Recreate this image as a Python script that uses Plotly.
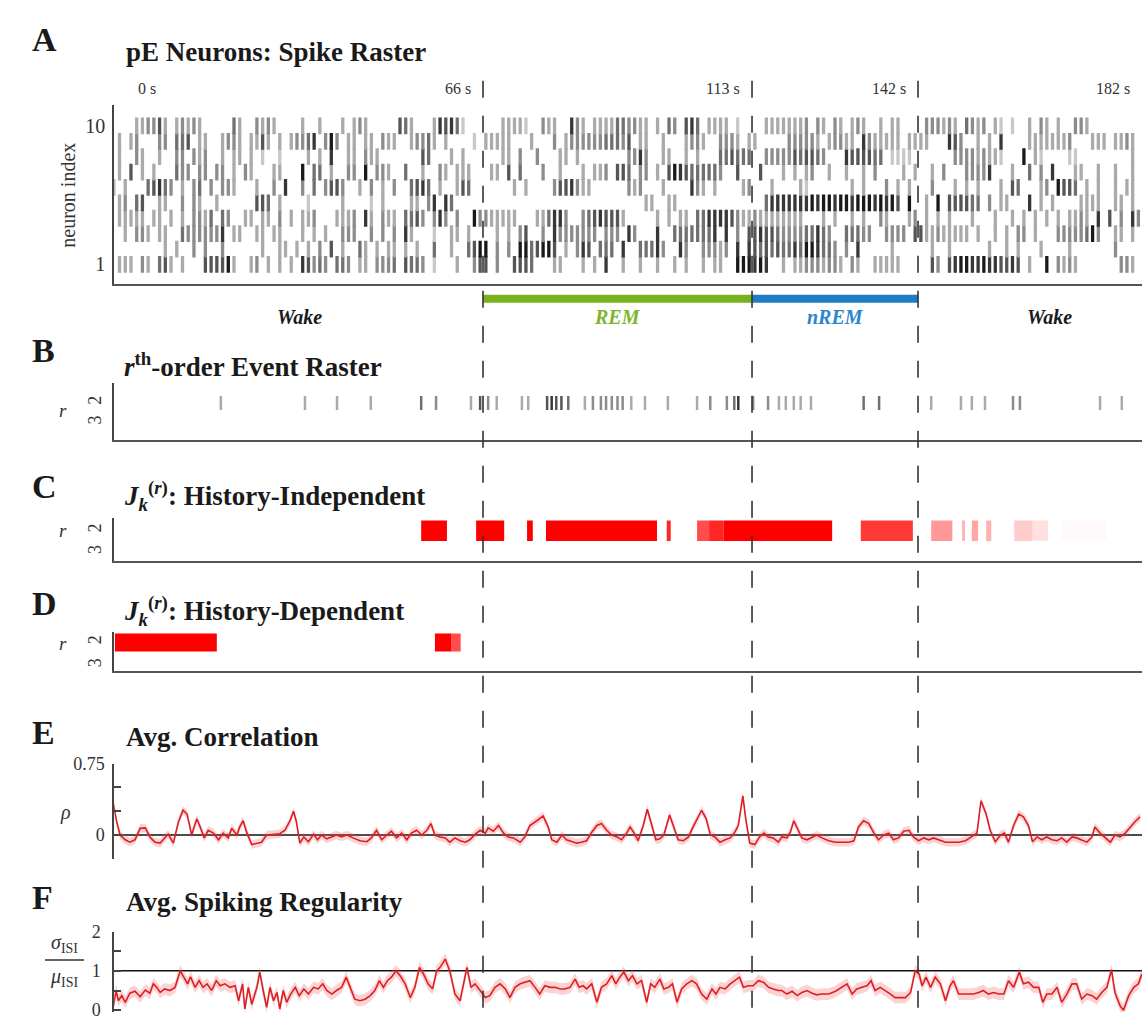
import plotly.graph_objects as go

# ---------------- DATA ----------------
TIME_MARKS = [0, 66, 113, 142, 182]          # seconds (labels above raster)
STATE_BOUNDS = [66, 113, 142]                 # dashed lines
STATE_NAMES = ["Wake", "REM", "nREM", "Wake"]
STATE_START = [0, 66, 113, 142]
STATE_END = [66, 113, 142, 188]
STATE_LABEL_T = [34, 89.5, 127.5, 165]
STATE_COLORS = [None, "#77b21c", "#1f7dc6", None]
STATE_TEXT_COLORS = ["#1a1a1a", "#7db62a", "#2a86cc", "#1a1a1a"]

# spike raster: per neuron list of (second-bin, darkness level 1-8)
N10 = [(5,3),(6,3),(7,4),(8,4),(9,6),(10,3),(12,3),(13,4),(14,3),(15,4),(16,3),(22,5),(23,3),(26,4),(27,3),(28,4),(29,3),(34,3),(37,3),(41,3),(43,3),(44,4),(45,3),(51,6),(52,5),(53,3),(57,3),(58,7),(59,6),(60,7),(61,5),(62,2),(69,3),(70,3),(71,3),(72,3),(73,2),(76,4),(77,3),(78,3),(81,7),(82,4),(83,3),(85,3),(86,3),(87,3),(88,3),(89,5),(90,5),(91,4),(92,4),(93,3),(94,3),(96,3),(98,5),(99,4),(101,6),(102,7),(103,5),(105,3),(106,3),(107,3),(108,3),(110,2),(115,3),(116,3),(117,3),(118,3),(119,3),(120,3),(121,3),(122,4),(124,4),(125,3),(127,4),(128,3),(130,3),(131,4),(132,3),(135,3),(137,3),(138,3),(143,4),(144,4),(145,4),(146,3),(147,4),(148,3),(150,5),(151,4),(152,3),(153,4),(155,3),(156,2),(158,2),(161,3),(163,4),(164,3),(166,3),(169,4),(170,4),(171,3)]
N9 = [(2,3),(4,3),(5,4),(9,4),(10,4),(12,5),(13,5),(14,6),(16,3),(17,3),(20,3),(21,4),(22,4),(23,3),(25,3),(26,3),(27,6),(28,3),(30,3),(32,3),(33,4),(34,4),(35,5),(36,7),(38,4),(39,8),(40,4),(42,3),(43,3),(45,3),(46,3),(48,4),(49,3),(50,3),(53,3),(54,4),(55,4),(56,5),(57,3),(59,3),(64,2),(66,3),(67,3),(68,3),(69,3),(70,3),(74,3),(78,4),(80,3),(81,4),(82,4),(83,4),(84,4),(85,4),(86,4),(87,5),(88,5),(89,5),(90,4),(91,6),(93,3),(94,3),(97,3),(101,3),(102,4),(103,4),(104,3),(107,4),(108,4),(109,4),(110,3),(112,3),(113,3),(119,4),(120,4),(121,4),(122,4),(123,4),(124,3),(126,3),(127,4),(128,4),(129,3),(130,3),(132,7),(133,4),(134,3),(135,3),(136,3),(137,3),(138,3),(140,3),(141,3),(142,3),(143,3),(147,7),(148,6),(149,4),(152,3),(154,3),(156,7),(161,3),(162,3),(163,3),(164,3),(165,3),(166,3),(167,3),(168,4),(172,3),(173,3),(174,3),(176,3),(177,3),(178,4),(179,3)]
N8 = [(2,3),(5,4),(6,3),(9,3),(12,4),(13,4),(15,4),(16,3),(17,4),(20,3),(22,3),(23,3),(25,3),(27,2),(30,2),(35,3),(37,3),(39,7),(42,3),(43,3),(45,4),(46,3),(47,3),(55,6),(56,5),(60,3),(62,3),(69,3),(70,3),(72,4),(75,4),(79,3),(80,3),(82,3),(91,4),(92,4),(93,7),(94,4),(97,3),(98,3),(101,3),(103,3),(107,5),(108,5),(109,6),(110,5),(111,5),(112,5),(115,4),(116,4),(117,4),(118,4),(119,4),(120,6),(121,5),(122,6),(123,6),(124,5),(125,4),(129,7),(130,6),(131,6),(132,6),(133,6),(134,5),(135,5),(137,2),(138,2),(139,2),(140,2),(148,4),(149,4),(150,4),(151,4),(152,3),(153,4),(154,3),(155,3),(156,2),(160,8),(162,3),(163,2),(168,2),(169,2),(179,3)]
N7 = [(2,3),(4,6),(6,3),(8,3),(12,5),(13,4),(14,4),(16,4),(17,4),(19,4),(20,4),(22,3),(24,4),(25,3),(29,3),(30,3),(34,8),(36,5),(37,5),(39,3),(42,4),(43,4),(45,8),(47,4),(48,4),(49,3),(52,5),(55,3),(58,4),(59,3),(61,3),(62,3),(63,3),(67,3),(68,3),(70,6),(72,5),(76,4),(79,3),(83,3),(85,3),(86,3),(87,4),(89,6),(90,6),(91,5),(93,4),(94,4),(96,3),(98,6),(99,8),(100,7),(101,6),(102,5),(103,5),(104,5),(105,5),(106,5),(107,4),(110,6),(114,6),(118,3),(120,3),(122,3),(123,4),(126,3),(129,3),(132,3),(134,4),(139,3),(141,3),(144,3),(146,4),(150,4),(151,4),(152,4),(153,4),(154,7),(158,3),(161,5),(163,4),(165,7),(169,3),(170,3),(173,3),(176,3),(179,3)]
N6 = [(1,3),(3,3),(7,5),(8,6),(9,7),(10,5),(11,4),(13,3),(15,4),(16,5),(18,4),(20,4),(21,4),(22,3),(26,3),(29,4),(31,7),(34,4),(36,5),(38,4),(39,6),(40,6),(41,4),(44,3),(46,4),(48,3),(50,4),(53,5),(54,6),(55,7),(56,5),(58,3),(61,3),(62,6),(63,5),(71,3),(73,3),(78,4),(79,6),(80,6),(81,7),(82,4),(83,3),(84,3),(91,4),(92,3),(93,4),(97,3),(102,7),(103,4),(104,3),(106,3),(111,3),(112,4),(116,3),(121,3),(122,2),(130,3),(132,3),(136,4),(138,3),(140,3),(144,4),(148,3),(150,3),(152,3),(156,3),(158,6),(159,5),(163,3),(164,4),(166,8),(167,6),(168,6),(169,5),(171,3),(173,3),(176,3),(178,3),(179,3)]
N5 = [(2,3),(3,4),(5,5),(6,6),(9,3),(10,3),(13,4),(15,4),(16,3),(19,3),(26,6),(27,6),(28,5),(30,3),(35,2),(41,3),(46,2),(48,3),(53,3),(54,3),(56,4),(57,7),(59,7),(60,5),(94,3),(95,3),(98,3),(99,3),(115,5),(116,7),(117,7),(118,7),(119,7),(120,7),(121,7),(122,7),(123,8),(124,7),(125,8),(126,8),(127,7),(128,8),(129,8),(130,7),(131,8),(132,8),(133,8),(134,7),(135,8),(136,7),(137,8),(138,6),(140,8),(143,3),(145,8),(147,6),(148,6),(149,6),(150,6),(151,5),(152,5),(154,4),(156,3),(157,3),(161,7),(163,3),(165,3),(170,3),(171,3),(172,3),(173,3),(176,3),(177,3),(179,3)]
N4 = [(2,3),(3,3),(4,3),(5,3),(6,3),(8,3),(9,3),(11,3),(13,3),(15,4),(16,4),(17,3),(18,5),(20,5),(21,4),(24,3),(25,3),(27,3),(28,3),(30,4),(32,3),(34,3),(35,3),(36,4),(40,3),(41,3),(42,3),(43,4),(45,7),(46,3),(48,4),(49,3),(50,3),(52,5),(53,5),(54,6),(55,4),(57,4),(58,7),(59,4),(61,4),(64,8),(65,4),(66,4),(67,3),(68,3),(69,3),(70,3),(71,3),(75,3),(76,3),(77,5),(78,7),(79,7),(80,4),(83,4),(84,5),(85,6),(86,7),(87,6),(88,6),(89,6),(90,3),(96,3),(98,3),(100,3),(101,3),(103,5),(104,5),(105,7),(106,7),(107,7),(108,7),(109,6),(110,4),(111,3),(112,3),(113,4),(114,3),(115,3),(116,3),(117,3),(118,3),(119,3),(120,3),(121,3),(125,3),(127,3),(130,3),(132,3),(135,4),(136,3),(140,3),(141,4),(143,3),(145,3),(147,3),(151,3),(155,3),(158,3),(160,3),(162,3),(164,3),(166,3),(168,3),(169,3),(170,4),(171,3),(173,7),(175,6),(177,4),(179,7),(180,4)]
N3 = [(3,3),(5,4),(6,4),(7,3),(9,3),(10,3),(13,5),(14,4),(15,4),(16,4),(17,4),(18,4),(19,4),(20,7),(22,3),(23,3),(26,3),(27,3),(29,3),(30,3),(34,3),(36,3),(38,3),(41,4),(42,4),(43,4),(46,4),(48,4),(50,4),(52,7),(53,3),(57,2),(60,3),(61,3),(63,3),(68,3),(70,3),(72,4),(73,6),(76,4),(78,7),(79,4),(80,4),(81,4),(82,4),(83,4),(84,4),(85,4),(87,4),(88,4),(89,4),(91,7),(92,4),(96,7),(99,5),(100,5),(101,5),(102,5),(103,5),(104,5),(105,5),(106,7),(108,7),(110,4),(112,6),(113,6),(114,7),(115,6),(116,6),(117,5),(118,4),(119,4),(120,4),(121,4),(122,5),(123,5),(124,7),(125,5),(126,4),(129,5),(130,5),(131,5),(132,4),(133,4),(136,4),(137,4),(138,4),(139,4),(141,6),(142,6),(143,3),(144,3),(145,4),(146,3),(147,3),(148,3),(149,3),(150,3),(152,3),(155,3),(157,3),(159,4),(160,4),(162,3),(166,4),(167,4),(168,4),(169,4),(170,4),(171,5),(172,8),(173,4),(176,3),(177,3),(179,3)]
N2 = [(10,3),(12,3),(15,4),(17,4),(20,4),(27,3),(30,3),(31,3),(33,3),(35,3),(37,4),(39,6),(41,3),(44,5),(45,3),(47,3),(49,3),(50,3),(52,3),(54,3),(57,5),(60,3),(63,5),(64,6),(65,8),(66,8),(68,4),(70,4),(72,8),(73,8),(74,5),(75,6),(76,8),(77,8),(78,6),(80,3),(82,4),(83,7),(84,6),(86,5),(87,5),(88,5),(90,7),(93,5),(94,5),(95,5),(96,7),(97,4),(100,7),(101,4),(104,4),(105,4),(106,4),(107,3),(108,4),(110,7),(112,7),(113,6),(114,5),(115,6),(116,5),(117,6),(118,5),(119,5),(120,7),(121,5),(122,8),(123,8),(124,7),(125,5),(126,5),(127,4),(129,4),(131,7),(137,3),(144,3),(147,3),(154,3),(157,3),(159,3),(163,3),(168,3),(176,4)]
N1 = [(2,3),(3,3),(4,3),(6,4),(7,3),(9,5),(10,6),(11,3),(13,3),(17,6),(18,6),(19,6),(20,6),(21,8),(22,3),(25,3),(26,4),(28,3),(30,3),(32,3),(34,7),(35,6),(36,4),(37,5),(38,4),(40,5),(41,5),(42,4),(44,3),(45,3),(47,4),(48,4),(49,4),(50,5),(52,6),(53,5),(54,5),(55,4),(57,2),(61,3),(64,4),(65,6),(66,6),(68,4),(71,6),(72,6),(73,6),(74,5),(78,3),(79,3),(83,3),(85,3),(87,7),(90,3),(93,3),(96,3),(99,3),(101,3),(104,3),(106,3),(107,3),(110,8),(111,8),(112,8),(113,7),(114,8),(115,7),(118,3),(120,3),(121,3),(122,4),(123,4),(124,4),(125,3),(126,4),(127,4),(128,3),(130,4),(131,3),(134,3),(135,3),(136,3),(137,3),(138,3),(144,6),(145,4),(147,6),(148,7),(149,8),(150,8),(151,7),(152,7),(153,8),(154,7),(155,7),(156,6),(157,6),(158,7),(159,6),(161,3),(164,8),(166,4),(167,3),(168,4),(169,3),(177,4),(178,4),(179,3)]
RASTER = [N1, N2, N3, N4, N5, N6, N7, N8, N9, N10]

# r-th order events (order r = 2): time (s), darkness level
B_EVENT_T = [20.2,34.9,40.5,46.4,55.2,57.8,63.9,65.5,66.9,68.4,72.8,73.9,77.2,78.0,78.8,79.7,80.9,83.8,85.2,86.6,87.5,88.5,89.5,90.4,91.9,94.3,98.3,103.4,105.7,108.6,109.9,110.6,113.2,115.8,117.7,118.9,120.3,121.5,123.3,132.5,135.2,144.3,149.5,151.4,153.7,158.6,159.8,173.8,177.6]
B_EVENT_L = [4,4,4,4,6,5,4,7,5,4,4,4,7,8,7,7,6,4,5,5,5,5,5,5,4,4,4,4,5,5,6,8,5,5,4,4,4,4,4,6,6,4,4,4,4,5,5,4,4]

# J_k^(r) significance segments: start (s), end (s), intensity 0-1
C_START = [55.2, 64.8, 73.7, 77.0, 98.1, 103.4, 105.5, 108.0, 132.0, 144.3, 149.7, 151.4, 153.9, 158.8, 162.0, 167.0]
C_END   = [59.7, 69.7, 74.7, 96.4, 98.8, 105.5, 108.0, 127.0, 141.1, 148.0, 150.2, 152.5, 154.8, 162.0, 164.7, 175.0]
C_INT   = [1.0, 1.0, 1.0, 1.0, 0.85, 0.7, 0.85, 1.0, 0.78, 0.4, 0.3, 0.35, 0.3, 0.2, 0.12, 0.025]
D_START = [1.7, 57.6, 60.5]
D_END   = [19.5, 60.5, 62.1]
D_INT   = [1.0, 1.0, 0.7]

# Avg. correlation (time s, rho)
E_CORR = [(1.4,0.34),(2.0,0.14),(2.6,0.0),(3.5,-0.05),(4.3,-0.075),(5.2,-0.05),(6.1,0.07),(7.0,0.075),(7.8,-0.02),(8.7,-0.075),
          (9.6,-0.085),(10.4,-0.03),(11.0,0.01),(11.9,-0.085),(12.8,0.14),(13.6,0.26),(14.3,0.22),(15.1,0.0),(16.0,0.17),(16.6,0.085),
          (17.3,-0.03),(18.0,0.05),(18.9,0.02),(19.8,-0.05),(20.6,0.02),(21.5,-0.03),(22.1,0.07),(23.0,0.0),(23.5,0.085),(24.1,0.15),
          (24.7,0.03),(25.6,-0.1),(26.5,-0.085),(27.3,-0.075),(28.2,0.0),(29.4,0.007),(30.5,0.014),(31.4,0.05),(32.3,0.15),(32.9,0.25),
          (33.4,0.14),(34.0,-0.085),(34.7,-0.02),(35.5,-0.07),(36.4,0.007),(37.1,-0.05),(37.8,0.0),(38.7,-0.04),(39.6,-0.02),(40.4,0.0),
          (41.3,-0.02),(42.2,0.0),(43.3,-0.03),(44.5,-0.06),(45.7,-0.07),(46.5,-0.03),(47.4,0.05),(48.3,-0.05),(49.2,0.0),(50.0,0.04),
          (50.9,-0.03),(51.8,0.02),(52.7,-0.05),(53.5,0.02),(54.4,0.05),(55.3,0.0),(56.2,0.05),(56.9,0.12),(57.6,0.0),(58.5,-0.02),
          (59.4,-0.03),(60.2,-0.075),(61.1,-0.03),(62.0,-0.06),(62.9,-0.075),(63.7,-0.05),(64.6,0.007),(65.5,0.05),(66.4,0.02),(66.9,0.075),
          (67.8,0.04),(68.7,0.1),(69.6,0.02),(70.4,-0.02),(71.3,-0.03),(72.5,-0.075),(73.3,-0.02),(74.2,0.1),(75.4,0.15),(76.5,0.2),
          (77.4,0.085),(78.0,-0.05),(78.9,-0.075),(79.8,0.0),(80.6,-0.05),(81.5,-0.07),(82.4,-0.085),(83.2,-0.075),(84.1,-0.06),(85.0,0.03),
          (85.9,0.1),(86.7,0.12),(87.6,0.05),(88.5,0.0),(89.4,-0.02),(90.2,-0.05),(91.1,0.02),(91.7,0.085),(92.3,0.03),(93.1,-0.06),
          (94.0,0.1),(94.7,0.27),(95.5,0.085),(96.2,-0.05),(96.9,-0.04),(97.6,0.0),(98.6,0.21),(99.3,0.085),(100.1,-0.05),(101.0,-0.06),
          (101.9,-0.02),(102.7,0.085),(103.5,0.17),(104.2,0.26),(105.0,0.17),(105.7,0.007),(106.5,-0.02),(107.4,-0.075),(108.3,-0.05),(109.2,-0.03),
          (110.0,0.03),(110.6,0.1),(111.4,0.41),(111.9,0.17),(112.6,-0.085),(113.5,-0.1),(114.3,-0.02),(115.1,0.02),(115.8,-0.02),(116.7,-0.03),
          (117.6,-0.075),(118.2,-0.02),(119.1,-0.03),(119.7,0.03),(120.3,0.15),(120.9,0.07),(121.7,-0.03),(122.6,-0.05),(123.5,-0.02),(124.3,0.0),
          (125.2,-0.03),(126.4,-0.06),(127.6,-0.075),(128.7,-0.075),(129.9,-0.075),(130.8,-0.06),(131.6,0.085),(132.5,0.15),(133.4,0.12),(134.3,0.02),
          (135.1,-0.05),(136.0,0.0),(136.9,0.02),(137.7,-0.05),(138.6,-0.03),(139.5,0.04),(140.4,0.05),(141.2,-0.02),(142.1,-0.06),(143.0,-0.03),
          (143.9,-0.05),(144.7,-0.03),(145.6,-0.05),(146.8,-0.075),(147.9,-0.075),(149.1,-0.075),(150.3,-0.06),(151.4,-0.02),(152.3,0.02),(153.0,0.36),
          (153.9,0.22),(154.6,0.05),(155.5,-0.07),(156.4,0.0),(157.1,0.02),(157.8,-0.075),(158.7,0.1),(159.6,0.22),(160.4,0.19),(161.3,0.1),
          (162.0,-0.07),(162.8,-0.02),(163.6,-0.05),(164.5,-0.02),(165.4,-0.05),(166.3,-0.06),(167.1,-0.03),(168.0,-0.075),(168.9,-0.02),(169.7,-0.03),
          (170.6,-0.05),(171.5,-0.075),(172.4,-0.02),(172.9,0.085),(173.8,0.02),(174.7,-0.03),(175.6,-0.075),(176.4,0.0),(177.3,-0.02),(178.2,0.02),
          (179.1,0.085),(179.9,0.14),(180.8,0.19)]
E_BAND_HALF = 0.045

# Avg. spiking regularity (time s, sigma/mu of ISI)
F_CV = [(1.4,0.07),(1.9,0.5),(2.3,0.24),(2.9,0.37),(3.5,0.2),(4.3,0.43),(5.2,0.48),(6.1,0.34),(7.0,0.51),(7.8,0.43),
        (8.4,0.67),(9.0,0.58),(9.6,0.45),(10.4,0.54),(11.3,0.5),(12.2,0.58),(13.1,1.0),(13.6,0.88),(14.4,0.67),(14.9,0.85),
        (15.7,0.58),(16.4,0.75),(17.1,0.58),(17.8,0.67),(18.6,0.5),(19.4,0.75),(20.1,0.62),(20.9,0.67),(21.8,0.58),(22.7,0.62),
        (23.3,0.24),(24.0,0.67),(24.4,0.03),(25.0,0.58),(25.6,0.15),(26.5,0.58),(27.0,0.97),(27.6,0.5),(28.2,0.07),(28.8,0.58),
        (29.4,0.24),(30.0,0.45),(30.5,0.03),(31.1,0.5),(31.7,0.2),(32.4,0.41),(33.2,0.58),(33.9,0.37),(34.7,0.54),(35.5,0.41),
        (36.4,0.58),(37.2,0.54),(38.0,0.67),(38.7,0.5),(39.6,0.41),(40.4,0.5),(41.3,0.58),(42.1,0.84),(42.8,0.58),(43.6,0.28),
        (44.5,0.24),(45.4,0.28),(46.3,0.37),(47.1,0.5),(47.9,0.75),(48.6,0.58),(49.3,0.75),(50.0,0.84),(50.8,1.0),(51.5,0.88),
        (52.4,0.67),(53.3,0.32),(54.1,0.58),(54.9,1.09),(55.6,0.92),(56.4,0.67),(57.2,0.54),(57.9,1.0),(58.5,1.09),(59.4,1.3),
        (60.2,1.0),(61.1,0.41),(62.0,0.24),(62.6,0.67),(63.2,1.09),(63.9,0.58),(64.6,0.67),(65.5,0.5),(66.4,0.32),(67.2,0.37),
        (68.1,0.58),(69.0,0.67),(69.9,0.54),(70.7,0.32),(71.6,0.58),(72.5,0.67),(73.3,0.71),(74.2,0.75),(75.1,0.58),(75.9,0.41),
        (76.8,0.62),(77.7,0.58),(78.6,0.58),(79.5,0.54),(80.3,0.54),(81.2,0.58),(82.1,0.79),(82.8,0.58),(83.5,0.62),(84.1,0.54),
        (85.0,0.67),(85.9,0.2),(86.7,0.58),(87.6,0.67),(88.5,0.88),(89.2,0.67),(89.9,0.84),(90.6,0.97),(91.4,0.75),(92.1,0.88),
        (92.9,0.67),(93.7,0.75),(94.6,0.2),(95.3,0.67),(96.0,0.58),(96.9,0.79),(97.6,0.54),(98.4,0.58),(99.1,0.67),(99.9,0.2),
        (100.7,0.54),(101.6,0.67),(102.5,0.75),(103.3,0.67),(104.2,0.41),(105.1,0.28),(106.0,0.54),(106.7,0.41),(107.4,0.58),(108.3,0.54),
        (109.2,0.67),(110.0,0.75),(110.8,0.84),(111.5,0.58),(112.4,0.62),(113.2,0.62),(114.1,0.75),(115.0,0.71),(115.9,0.58),(116.7,0.54),
        (117.6,0.5),(118.2,0.5),(119.1,0.41),(120.0,0.48),(120.9,0.37),(121.7,0.45),(122.6,0.5),(123.5,0.43),(124.3,0.39),(125.2,0.41),
        (126.4,0.41),(127.6,0.48),(128.7,0.58),(129.6,0.67),(130.5,0.41),(131.3,0.54),(132.2,0.58),(133.1,0.62),(133.8,0.75),(134.5,0.5),
        (135.4,0.58),(136.3,0.5),(137.2,0.41),(138.0,0.32),(138.9,0.32),(139.8,0.32),(140.7,0.45),(141.5,1.0),(142.2,0.92),(142.7,0.62),
        (143.4,0.84),(144.2,0.58),(145.0,0.84),(145.9,0.67),(146.8,0.24),(147.6,0.62),(148.2,0.75),(149.1,0.41),(149.9,0.41),(150.8,0.41),
        (151.7,0.41),(152.6,0.45),(153.4,0.5),(154.3,0.41),(155.2,0.45),(156.1,0.41),(157.0,0.41),(157.8,0.75),(158.7,0.58),(159.7,0.97),
        (160.4,0.67),(161.3,0.71),(162.2,0.58),(163.1,0.58),(163.8,0.2),(164.5,0.41),(165.4,0.41),(166.3,0.58),(167.1,0.2),(168.0,0.41),
        (168.9,0.67),(169.7,0.67),(170.6,0.28),(171.5,0.41),(172.4,0.37),(173.2,0.28),(174.1,0.45),(175.0,0.58),(175.8,1.03),(176.4,0.45),
        (177.3,0.11),(177.9,0.0),(178.8,0.37),(179.7,0.58),(180.5,0.67),(181.1,0.92)]
F_BAND_HALF = 0.15

# ---------------- LAYOUT HELPERS ----------------
W, H = 1142, 1027
def pxx(p): return p / W
def pyy(p): return 1 - p / H

SERIF = "Liberation Serif, Times New Roman, serif"
XR = [1.57, 181.13]
XDOM = [0.1, 1.0]
GRAY = {0: 235, 1: 220, 2: 200, 3: 170, 4: 140, 5: 112, 6: 85, 7: 55, 8: 25}
def gcol(l):
    g = GRAY[l]
    return f"rgb({g},{g},{g})"

fig = go.Figure()

# --- A: spike raster
rx, ry, rc = [], [], []
for n, spikes in enumerate(RASTER, start=1):
    for s, lev in spikes:
        rx.append(s + 0.5); ry.append(n); rc.append(gcol(lev))
fig.add_trace(go.Scatter(x=rx, y=ry, mode="markers", xaxis="x", yaxis="y",
                         marker=dict(symbol="line-ns", size=12, line=dict(width=3.3, color=rc)),
                         hoverinfo="skip", showlegend=False))

# --- state bar
for name, s0, s1, col in zip(STATE_NAMES, STATE_START, STATE_END, STATE_COLORS):
    if col is None:
        continue
    fig.add_trace(go.Scatter(x=[s0, s1], y=[0.5, 0.5], mode="lines", xaxis="x2", yaxis="y2",
                             line=dict(color=col, width=8), hoverinfo="skip", showlegend=False))

# --- B: event raster
fig.add_trace(go.Scatter(x=B_EVENT_T, y=[2] * len(B_EVENT_T), mode="markers", xaxis="x3", yaxis="y3",
                         marker=dict(symbol="line-ns", size=10,
                                     line=dict(width=2.5, color=[gcol(l - 1) for l in B_EVENT_L])),
                         hoverinfo="skip", showlegend=False))

# --- C / D bars
def seg_bars(starts, ends, ints, xa, ya, width):
    fig.add_trace(go.Bar(orientation="h", y=[2] * len(starts),
                         x=[e - s for s, e in zip(starts, ends)], base=starts,
                         width=width, xaxis=xa, yaxis=ya,
                         marker=dict(color=[f"rgba(255,0,0,{a})" for a in ints], line=dict(width=0)),
                         hoverinfo="skip", showlegend=False))
seg_bars(C_START, C_END, C_INT, "x4", "y4", 0.95)
seg_bars(D_START, D_END, D_INT, "x5", "y5", 0.78)

# --- E / F lines with bands
def band_line(series, half, xa, ya):
    t = [p[0] for p in series]; v = [p[1] for p in series]
    fig.add_trace(go.Scatter(x=t + t[::-1], y=[a + half for a in v] + [a - half for a in v][::-1],
                             fill="toself", fillcolor="rgba(238,80,80,0.25)", line=dict(width=0),
                             mode="lines", xaxis=xa, yaxis=ya, hoverinfo="skip", showlegend=False))
    fig.add_trace(go.Scatter(x=t, y=v, mode="lines", xaxis=xa, yaxis=ya,
                             line=dict(color="#dc1f24", width=1.6), hoverinfo="skip", showlegend=False))
band_line(E_CORR, E_BAND_HALF, "x6", "y6")
band_line(F_CV, F_BAND_HALF, "x7", "y7")

# ---------------- AXES ----------------
def xax(showline, anchor):
    return dict(domain=XDOM, range=XR, showticklabels=False, showgrid=False, zeroline=False,
                ticks="", showline=showline, linecolor="#555", linewidth=2, anchor=anchor, fixedrange=True)

rtick = dict(family=SERIF, size=18, color="#333")
def raxis(top, bot, rng, anchor):
    return dict(domain=[pyy(bot), pyy(top)], range=rng, tickvals=[2, 3], ticktext=["2", "3"],
                tickangle=-90, showline=True, linecolor="#444", linewidth=2, ticks="", showgrid=False,
                zeroline=False, tickfont=rtick, ticklabelstandoff=4, anchor=anchor)

layout = dict(
    width=W, height=H, margin=dict(l=0, r=0, t=0, b=0),
    paper_bgcolor="white", plot_bgcolor="white", showlegend=False, barmode="overlay",
    xaxis=xax(True, "y"), xaxis2=dict(xax(False, "y2"), visible=False),
    xaxis3=xax(True, "y3"), xaxis4=xax(True, "y4"), xaxis5=xax(True, "y5"),
    xaxis6=xax(False, "y6"), xaxis7=xax(False, "y7"),
    yaxis=dict(domain=[pyy(279), pyy(97)], range=[-0.28, 11.34], tickvals=[1, 10], ticktext=["1", "10"],
               showline=True, linecolor="#444", linewidth=2, ticks="", showgrid=False, zeroline=False,
               tickfont=dict(family=SERIF, size=20, color="#333"), ticklabelstandoff=3, anchor="x"),
    yaxis2=dict(domain=[pyy(302), pyy(286)], range=[0, 1], visible=False, anchor="x2"),
    yaxis3=raxis(380, 438, [3.9, 1.0], "x3"),
    yaxis4=raxis(517, 561, [3.41, 1.41], "x4"),
    yaxis5=raxis(633, 673, [3.25, 1.54], "x5"),
    yaxis6=dict(domain=[pyy(864), pyy(767)], range=[-0.25, 0.75], tickvals=[-0.25, 0, 0.25, 0.5, 0.75],
                ticktext=["", "0", "", "", "0.75"], ticks="inside", ticklen=7, tickcolor="#444", tickwidth=1.5,
                showline=True, linecolor="#444", linewidth=1.5, showgrid=False, zeroline=False,
                tickfont=dict(family=SERIF, size=18, color="#333"), ticklabelstandoff=4, anchor="x6"),
    yaxis7=dict(domain=[pyy(1020), pyy(938)], range=[-0.05, 2.0], tickvals=[0, 0.5, 1, 1.5, 2],
                ticktext=["0", "", "1", "", "2"], ticks="inside", ticklen=7, tickcolor="#444", tickwidth=1.5,
                showline=True, linecolor="#444", linewidth=1.5, showgrid=False, zeroline=False,
                tickfont=dict(family=SERIF, size=18, color="#333"), ticklabelstandoff=8,
                ticklabeloverflow="allow", anchor="x7"),
)
fig.update_layout(**layout)

# ---------------- SHAPES ----------------
shapes = []
for t in STATE_BOUNDS:
    shapes.append(dict(type="line", xref="x", yref="paper", x0=t, x1=t, y0=pyy(72), y1=0,
                       line=dict(color="#333", width=1.6, dash="17px,18px"), layer="above"))
shapes.append(dict(type="line", xref="x6 domain", yref="y6", x0=0, x1=1, y0=0, y1=0,
                   line=dict(color="#111", width=1.5), layer="below"))
shapes.append(dict(type="line", xref="x7 domain", yref="y7", x0=0, x1=1, y0=1, y1=1,
                   line=dict(color="#111", width=1.5), layer="below"))
shapes.append(dict(type="line", xref="paper", yref="paper", x0=pxx(45), x1=pxx(84), y0=pyy(967), y1=pyy(967),
                   line=dict(color="#333", width=1.5)))
fig.update_layout(shapes=shapes)

# ---------------- TEXT ----------------
ann = []
def txt(x, y, s, size, xanchor="left", color="#1a1a1a", angle=0, xref="paper", yref="paper", xshift=0):
    ann.append(dict(x=x, y=y, xref=xref, yref=yref, text=s, showarrow=False, xanchor=xanchor,
                    yanchor="middle", textangle=angle, xshift=xshift,
                    font=dict(family=SERIF, size=size, color=color)))

for letter, yp in [("A", 30), ("B", 347), ("C", 485), ("D", 604), ("E", 735), ("F", 903)]:
    txt(pxx(30), pyy(yp), f"<b>{letter}</b>", 34)
TS = 27
txt(pxx(124), pyy(43), "<b>pE Neurons: Spike Raster</b>", TS)
txt(pxx(122), pyy(361), "<b><i>r</i><sup>th</sup>-order Event Raster</b>", TS)
txt(pxx(122), pyy(495), "<b><i>J</i><sub><i>k</i></sub><sup>(<i>r</i>)</sup>: History-Independent</b>", TS)
txt(pxx(122), pyy(612), "<b><i>J</i><sub><i>k</i></sub><sup>(<i>r</i>)</sup>: History-Dependent</b>", TS)
txt(pxx(124), pyy(740), "<b>Avg. Correlation</b>", TS)
txt(pxx(124), pyy(908), "<b>Avg. Spiking Regularity</b>", TS)

# time labels above raster
for i, t in enumerate(TIME_MARKS):
    xpos = min(max(t, XR[0]), XR[1])
    if i == 0:
        txt(xpos, pyy(80), f"{t} s", 16, xanchor="left", xref="x", xshift=22, color="#333")
    else:
        txt(xpos, pyy(80), f"{t} s", 16, xanchor="right", xref="x", xshift=-10, color="#333")

# state labels
for name, tl, col in zip(STATE_NAMES, STATE_LABEL_T, STATE_TEXT_COLORS):
    txt(tl, pyy(312), f"<b><i>{name}</i></b>", 20, xanchor="center", xref="x", color=col)

txt(pxx(68), pyy(189), "neuron index", 20, xanchor="center", angle=-90, color="#333")
for yp in [408, 530, 645]:
    txt(pxx(63), pyy(yp), "<i>r</i>", 19, xanchor="center", color="#333")
txt(pxx(65), pyy(817), "<i>ρ</i>", 20, xanchor="center", color="#333")
txt(pxx(64), pyy(950), "<i>σ</i><sub>ISI</sub>", 20, xanchor="center", color="#333")
txt(pxx(64), pyy(985), "<i>μ</i><sub>ISI</sub>", 20, xanchor="center", color="#333")
fig.update_layout(annotations=ann)

fig.write_html("out.html")
